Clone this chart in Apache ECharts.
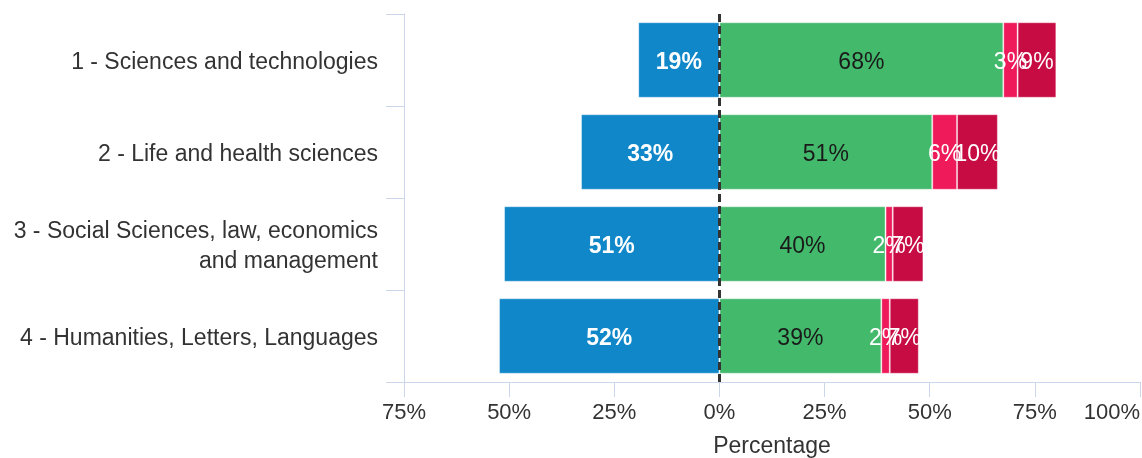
<!DOCTYPE html>
<html>
<head>
<meta charset="utf-8">
<script src="https://cdn.jsdelivr.net/npm/echarts@6/dist/echarts.min.js"></script>
<style>
html,body{margin:0;padding:0;background:#fff;}
#chart{width:1142px;height:458px;}
</style>
</head>
<body>
<div id="chart"></div>
<script>
const categories = [
  '1 - Sciences and technologies',
  '2 - Life and health sciences',
  '3 - Social Sciences, law, economics\nand management',
  '4 - Humanities, Letters, Languages'
];
const blueValues = [-19.3, -32.9, -51.2, -52.4];
const greenValues = [67.5, 50.6, 39.5, 38.5];
const pinkValues = [3.4, 5.9, 1.7, 2.0];
const crimsonValues = [9.2, 9.7, 7.3, 6.9];
const xMin = -75, xMax = 100, xStep = 25;

const FONT = '"Liberation Sans", Arial, sans-serif';
const fmt = p => Math.round(Math.abs(p.value)) + '%';

function barSeries(name, data, color, labelColor, weight) {
  return {
    name: name,
    type: 'bar',
    stack: 'total',
    data: data,
    barCategoryGap: '18%',
    itemStyle: { color: color, borderColor: 'rgba(255,255,255,0.35)', borderWidth: 1 },
    label: {
      show: true,
      position: 'inside',
      offset: [0, 3],
      formatter: fmt,
      color: labelColor,
      fontFamily: FONT,
      fontSize: 23,
      fontWeight: weight
    },
    emphasis: { disabled: true }
  };
}

const chart = echarts.init(document.getElementById('chart'), null, { renderer: 'canvas' });
const series = [
  barSeries('blue', blueValues, '#0f87c8', '#ffffff', 'bold'),
  barSeries('green', greenValues, '#43b96b', '#1a1a1a', 'normal'),
  barSeries('pink', pinkValues, '#ee1a5a', '#ffffff', 'normal'),
  barSeries('crimson', crimsonValues, '#c70c44', '#ffffff', 'normal')
];
series[3].markLine = {
  silent: true,
  symbol: 'none',
  label: { show: false },
  lineStyle: { color: '#333333', type: [8, 4], width: 3 },
  data: [{ xAxis: 0 }],
  z: 10
};
chart.setOption({
  animation: false,
  backgroundColor: '#ffffff',
  grid: { left: 404, right: 2, top: 14, bottom: 76, containLabel: false, outerBoundsMode: 'none' },
  xAxis: {
    type: 'value',
    min: xMin, max: xMax, interval: xStep,
    name: 'Percentage',
    nameLocation: 'middle',
    nameGap: 53,
    nameTextStyle: { color: '#333333', fontFamily: FONT, fontSize: 23 },
    axisLine: { show: true, onZero: false, lineStyle: { color: '#ccd6eb', width: 1 } },
    axisTick: { show: true, length: 15, lineStyle: { color: '#ccd6eb' } },
    splitLine: { show: false },
    axisLabel: {
      formatter: v => Math.abs(v) + '%',
      color: '#333333', fontFamily: FONT, fontSize: 22, margin: 20,
      alignMaxLabel: 'right'
    }
  },
  yAxis: {
    type: 'category',
    inverse: true,
    data: categories,
    axisLine: { show: true, onZero: false, lineStyle: { color: '#ccd6eb', width: 1 } },
    axisTick: { show: true, length: 18, lineStyle: { color: '#ccd6eb' } },
    splitLine: { show: false },
    axisLabel: {
      margin: 26,
      align: 'right',
      formatter: v => v.split('\n').map(s => '{a|' + s + '}').join('\n'),
      rich: {
        a: {
          color: '#333333', fontFamily: FONT, fontSize: 23,
          lineHeight: 30, padding: [6, 0, 0, 0], align: 'right'
        }
      }
    }
  },
  series: series
});
</script>
</body>
</html>
